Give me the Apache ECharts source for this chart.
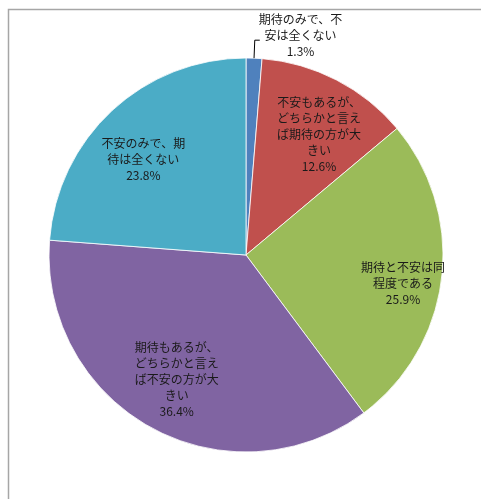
<!DOCTYPE html>
<html>
<head>
<meta charset="utf-8">
<script src="https://cdn.jsdelivr.net/npm/echarts@6/dist/echarts.min.js"></script>
<style>
  html, body { margin: 0; padding: 0; background: #fff; }
  #chart { width: 481px; height: 499px; }
</style>
</head>
<body>
<div id="chart"></div>
<script>
// answers, clockwise from 12 o'clock
const categories = [
  '期待のみで、不安は全くない',
  '不安もあるが、どちらかと言えば期待の方が大きい',
  '期待と不安は同程度である',
  '期待もあるが、どちらかと言えば不安の方が大きい',
  '不安のみで、期待は全くない',
];
const shares = [1.3, 12.6, 25.9, 36.4, 23.8];
const sliceColors = ['#4F81BD', '#C0504D', '#9BBB59', '#8064A2', '#4BACC6'];

// small label shifts so the text sits where Excel put it
const labelNudge = [[0, 0], [5, 11], [10, 11], [2, -5], [-2, 13]];

const fontJP = '"Noto Sans CJK JP", "Noto Sans", sans-serif';

// wrap every 7 characters like the original labels
function wrap(name) {
  const parts = [];
  for (let i = 0; i < name.length; i += 7) parts.push(name.slice(i, i + 7));
  return parts.join('\n');
}

const pieData = categories.map((name, i) => ({
  name: name,
  value: shares[i],
  itemStyle: { color: sliceColors[i] },
}));

// label-only copy of the pie, its ring centred where the labels sit
const labelData = categories.map((name, i) => {
  const item = {
    name: name,
    value: shares[i],
    itemStyle: { color: 'transparent' },
  };
  if (i === 0) {
    item.label = { position: 'outside' };
    item.labelLine = {
      show: true,
      length: 18,
      length2: 5,
      lineStyle: { color: '#000', width: 1 },
    };
  }
  return item;
});

const center = [246, 255];

const option = {
  backgroundColor: '#ffffff',
  animation: false,
  graphic: [
    {
      type: 'rect',
      left: 6,
      top: 7,
      shape: { width: 600, height: 600 },
      style: { fill: 'none', stroke: '#a6a6a6', lineWidth: 1.5 },
      silent: true,
    },
  ],
  series: [
    {
      type: 'pie',
      center: center,
      radius: 197,
      startAngle: 90,
      clockwise: true,
      silent: true,
      label: { show: false },
      labelLine: { show: false },
      itemStyle: { borderColor: '#ffffff', borderWidth: 0.8 },
      data: pieData,
    },
    {
      type: 'pie',
      center: center,
      radius: [93, 197],
      startAngle: 90,
      clockwise: true,
      silent: true,
      z: 3,
      label: {
        show: true,
        position: 'inside',
        color: '#1a1a1a',
        fontFamily: fontJP,
        fontSize: 12,
        lineHeight: 16,
        formatter: (p) => wrap(p.name) + '\n' + p.value.toFixed(1) + '%',
      },
      labelLine: { show: false },
      labelLayout: function (params) {
        const i = params.dataIndex;
        if (i === 0) {
          const r = params.labelRect;
          return {
            x: r.x + r.width / 2 - 6,
            y: r.y + r.height / 2 - 5,
            align: 'center',
            verticalAlign: 'middle',
            labelLinePoints: params.labelLinePoints,
          };
        }
        return { dx: labelNudge[i][0], dy: labelNudge[i][1] };
      },
      data: labelData,
    },
  ],
};

const chart = echarts.init(document.getElementById('chart'), null, { renderer: 'canvas' });
chart.setOption(option);
</script>
</body>
</html>
